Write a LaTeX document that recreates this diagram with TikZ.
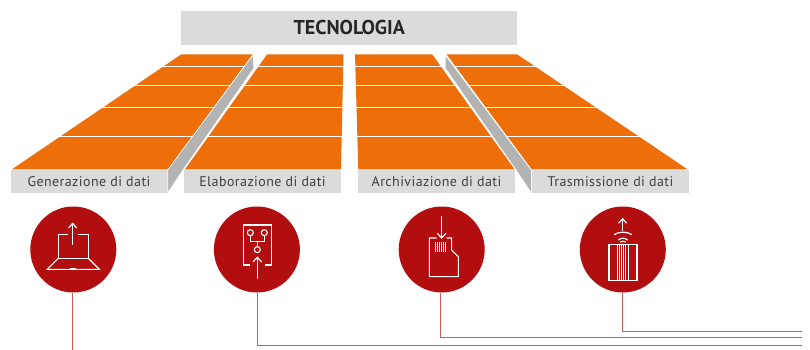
\documentclass[tikz,border=0pt]{standalone}
\usepackage{fontspec}
\setmainfont{PT Sans}
\newfontfamily\labfont[LetterSpace=3]{PT Sans}
\definecolor{org}{HTML}{EE6F0A}
\definecolor{lab}{HTML}{DBDBDB}
\definecolor{sidegrey}{HTML}{B3B3B3}
\definecolor{crimson}{HTML}{B20E10}
\definecolor{wire}{HTML}{CF5A5E}
\tikzset{
  panel/.style={fill=org,draw=none},
  sep/.style={draw=white,line width=1pt},
  side/.style={fill=sidegrey,draw=white,line width=0.6pt,line join=round},
  labelbox/.style={fill=lab,draw=none,minimum width=157pt,minimum height=23pt,inner sep=0pt,text=black!75,font=\fontsize{14}{16}\labfont},
  titlebox/.style={fill=lab,draw=none,minimum width=335.5pt,minimum height=34pt,inner sep=0pt,text=black!85,font=\fontsize{20}{22}\selectfont\bfseries},
  disc/.style={circle,fill=crimson,draw=none,minimum size=86pt,inner sep=0pt},
  wireline/.style={draw=wire,line width=1pt},
  ico/.style={draw=white,line width=1.1pt,fill=none},
  icoarrow/.style={draw=white,line width=1.2pt,fill=none}
}
\begin{document}
\begin{tikzpicture}[x=1pt,y=-1pt]
\useasboundingbox (0,0) rectangle (810,350);
\fill[white] (0,0) rectangle (810,350);
\node[titlebox] (title) at (349.2,28) {TECNOLOGIA};
% panels
\fill[panel] (181,54.5) -- (252.5,54.5) -- (168,169.3) -- (12,169.3) -- cycle;
\fill[panel] (267,54.5) -- (343.5,54.5) -- (341,169.3) -- (185,169.3) -- cycle;
\fill[panel] (355,54.5) -- (432.3,54.5) -- (514.5,169.3) -- (358.3,169.3) -- cycle;
\fill[panel] (446.7,54.5) -- (517.3,54.5) -- (687.5,169.3) -- (531.7,169.3) -- cycle;
% row separators
\foreach \y in {67,86,108,136}{
  \draw[sep] (0,\y) -- (700,\y);
}
\node[labelbox] (l1) at (89,181.5) {Generazione di dati};
\node[labelbox] (l2) at (262.5,181.5) {Elaborazione di dati};
\node[labelbox] (l3) at (436.5,181.5) {Archiviazione di dati};
\node[labelbox] (l4) at (610.5,181.5) {Trasmissione di dati};
% side faces
\draw[side] (167.7,170) -- (252.8,55) -- (254,68) -- (183,170) -- (167.7,193) -- cycle;
\draw[side] (445.2,55) -- (531.3,170) -- (531.3,193) -- (516,170) -- (445.2,68) -- cycle;
% discs
\node[disc] (d1) at (73.3,249.5) {};
\node[disc] (d2) at (256.9,249.5) {};
\node[disc] (d3) at (441.7,249.5) {};
\node[disc] (d4) at (622.8,249.5) {};
% connectors
\coordinate (e1) at (72.5,350);
\coordinate (e2) at (802,345);
\coordinate (e3) at (802,337.5);
\coordinate (e4) at (802,331);
\draw[wireline] (d1.south -| e1) -- (e1);
\draw[wireline] (d2.south) ++(0.5,0) |- (e2);
\draw[wireline] (d3.south) ++(-1,0) |- (e3);
\draw[wireline] (d4.south) |- (e4);
% icon 1
\begin{scope}[shift={(20,200)},x=0.3333pt,y=-0.3333pt]
\draw[ico] (145,104) -- (115,104) -- (115,175) -- (205,175) -- (205,104) -- (175,104);
\draw[ico] (115,175) -- (82,208) -- (238,208) -- (205,175);
\draw[ico,line width=1.8pt] (150,207) -- (168,207);
\draw[icoarrow] (158,135) -- (158,70);
\draw[icoarrow] (146,84) -- (158,70) -- (170,84);
\end{scope}
% icon 2
\begin{scope}[shift={(205,200)},x=0.3333pt,y=-0.3333pt]
\draw[ico] (135,195) -- (116,195) -- (116,75) -- (199,75) -- (199,195) -- (180,195);
\draw[ico] (136,98) circle[radius=3pt];
\draw[ico] (178,98) circle[radius=3pt];
\draw[ico] (157,149) circle[radius=3pt];
\draw[ico] (136,107) -- (136,125) -- (178,125) -- (178,107);
\draw[ico] (157,125) -- (157,140);
\draw[icoarrow] (157,236) -- (157,172);
\draw[icoarrow] (144,186) -- (157,172) -- (170,186);
\end{scope}
% icon 3
\begin{scope}[shift={(390,200)},x=0.3333pt,y=-0.3333pt]
\draw[ico] (140,114) -- (118,114) -- (118,230) -- (205,230) -- (205,170) -- (185,150) -- (185,114) -- (170,114);
\foreach \x in {135,141,147,153,159,165}{\draw[ico,line width=0.9pt] (\x,127) -- (\x,155);}
\draw[icoarrow] (155,48) -- (155,114);
\draw[icoarrow] (142,100) -- (155,114) -- (168,100);
\end{scope}
% icon 4
\begin{scope}[shift={(570,200)},x=0.3333pt,y=-0.3333pt]
\draw[ico] (117,134) rectangle (201,241);
\foreach \x in {141,147,155,160,167,175}{\draw[ico,line width=0.8pt] (\x,134) -- (\x,241);}
\draw[icoarrow] (158,92) -- (158,56);
\draw[icoarrow] (146,70) -- (158,56) -- (170,70);
\draw[icoarrow] (132,104) .. controls (148,94) and (170,94) .. (186,104);
\draw[icoarrow] (145,120) .. controls (153,113) and (165,113) .. (173,120);
\draw[icoarrow] (151,126) .. controls (155,123) and (163,123) .. (167,126);
\end{scope}
\end{tikzpicture}
\end{document}
